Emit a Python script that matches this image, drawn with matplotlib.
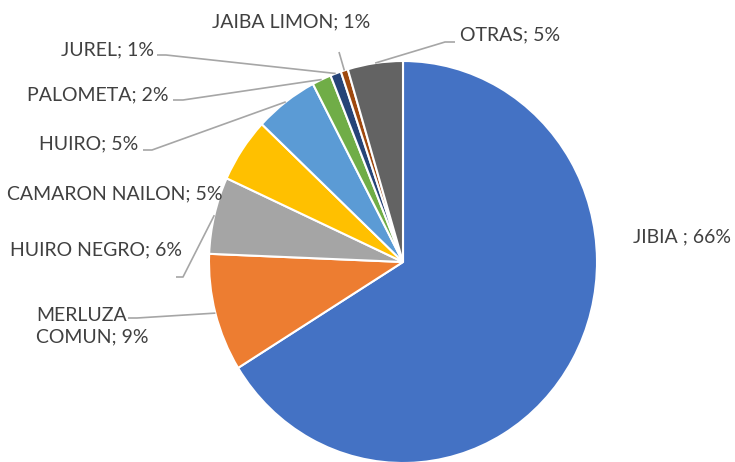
import numpy as np
import matplotlib
matplotlib.use("Agg")
import matplotlib.pyplot as plt

categories = ["JIBIA", "MERLUZA COMUN", "HUIRO NEGRO", "CAMARON NAILON", "HUIRO",
              "PALOMETA", "JUREL", "JAIBA LIMON", "OTRAS"]
values = [66.3, 9.5, 6.2, 5.2, 5.3, 1.6, 0.9, 0.6, 4.6]
labels = ["JIBIA ; 66%", "MERLUZA\nCOMUN; 9%", "HUIRO NEGRO; 6%", "CAMARON NAILON; 5%",
          "HUIRO; 5%", "PALOMETA; 2%", "JUREL; 1%", "JAIBA LIMON; 1%", "OTRAS; 5%"]
colors = ["#4472C4", "#ED7D31", "#A5A5A5", "#FFC000", "#5B9BD5",
          "#70AD47", "#264478", "#9E480E", "#636363"]

W, H = 735, 462
fig = plt.figure(figsize=(W / 100, H / 100), dpi=100)

# pie geometry in pixels (top-origin)
cx, cy, Rh, Rv = 403, 262, 194, 201

axp = fig.add_axes([(cx - Rh) / W, (H - cy - Rv) / H, 2 * Rh / W, 2 * Rv / H])
wedges, _ = axp.pie(values, colors=colors, startangle=90, counterclock=False,
                    radius=1, wedgeprops=dict(edgecolor="white", linewidth=1.5))
axp.set_aspect("auto")
axp.set_xlim(-1, 1)
axp.set_ylim(-1, 1)
axp.axis("off")

ax = fig.add_axes([0, 0, 1, 1])
ax.set_xlim(0, W)
ax.set_ylim(H, 0)
ax.axis("off")
ax.patch.set_alpha(0)

place = {
    "JIBIA": (633, 237, "left", None),
    "MERLUZA COMUN": (36, 326, "left", [(128, 318), (137, 318)]),
    "HUIRO NEGRO": (182, 250, "right", [(176, 277), (183, 277)]),
    "CAMARON NAILON": (223, 194, "right", None),
    "HUIRO": (138, 144, "right", [(143, 150), (152, 150)]),
    "PALOMETA": (169, 95, "right", [(173, 100), (183, 100)]),
    "JUREL": (154, 50, "right", [(157, 55), (166, 55)]),
    "JAIBA LIMON": (370, 22, "right", [(339, 52)]),
    "OTRAS": (460, 35, "left", [(455, 42), (445, 42)]),
}

font = ["Lato", "DejaVu Sans"]
for w, cat, lab in zip(wedges, categories, labels):
    x, y, ha, elbow = place[cat]
    ax.text(x, y, lab, ha=ha, va="center", fontsize=14, color="#404040",
            family=font, linespacing=1.35, multialignment="left")
    if elbow:
        mid = np.deg2rad((w.theta1 + w.theta2) / 2)
        px = cx + Rh * np.cos(mid)
        py = cy - Rv * np.sin(mid)
        xs = [e[0] for e in elbow] + [px]
        ys = [e[1] for e in elbow] + [py]
        ax.plot(xs, ys, color="#A6A6A6", linewidth=1.2, solid_capstyle="butt")

fig.savefig("out.png", dpi=100)
